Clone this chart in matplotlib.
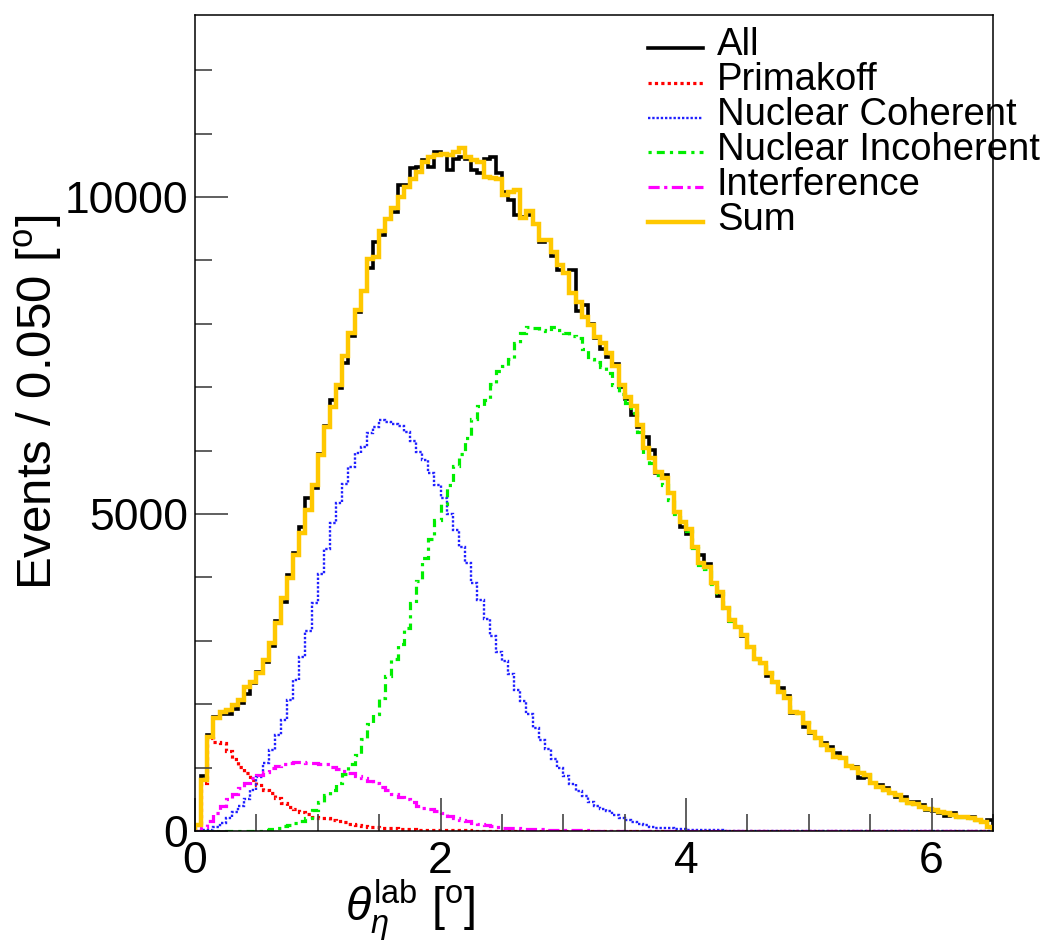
import numpy as np
import matplotlib
matplotlib.use("Agg")
import matplotlib.pyplot as plt
from matplotlib.lines import Line2D
from matplotlib.ticker import MultipleLocator

plt.rcParams.update({
    "font.family": ["Liberation Sans", "DejaVu Sans"],
    "mathtext.fontset": "custom",
    "mathtext.rm": "Liberation Sans",
    "mathtext.it": "Liberation Sans:italic",
})

# 130 bins of 0.05 deg between 0 and 6.5 deg
X_MIN, X_MAX, BIN_W = 0.0, 6.5, 0.05

all_events = [
    100, 870, 1510, 1800, 1850, 1850, 1930, 2020, 2160, 2330,
    2510, 2670, 2910, 3310, 3610, 4040, 4380, 4790, 5250, 5410,
    5950, 6390, 6800, 6990, 7380, 7800, 8180, 8520, 8880, 9290,
    9400, 9650, 9760, 10190, 10190, 10460, 10470, 10580, 10470, 10710,
    10680, 10420, 10600, 10630, 10600, 10430, 10380, 10600, 10630, 10380,
    10080, 9950, 9720, 9690, 9720, 9570, 9290, 9320, 9070, 8850,
    8800, 8850, 8200, 8300, 8000, 7780, 7600, 7480, 7370, 7000,
    6810, 6560, 6370, 6210, 6010, 5640, 5610, 5330, 5030, 4800,
    4680, 4480, 4350, 4210, 3910, 3710, 3520, 3310, 3220, 3080,
    2900, 2720, 2650, 2450, 2350, 2250, 2130, 1860, 1860, 1640,
    1550, 1460, 1390, 1330, 1230, 1150, 1030, 1010, 835, 850,
    755, 725, 675, 600, 540, 540, 460, 460, 410, 330,
    320, 280, 240, 280, 215, 220, 225, 175, 145, 175,
]

fit_sum = [
    95, 800, 1485, 1780, 1880, 1910, 1980, 2065, 2275, 2350,
    2490, 2700, 2970, 3280, 3670, 3990, 4350, 4700, 5060, 5460,
    5930, 6370, 6690, 7030, 7490, 7850, 8220, 8520, 9020, 9050,
    9460, 9650, 9820, 10000, 10160, 10280, 10390, 10550, 10630, 10660,
    10670, 10660, 10710, 10770, 10630, 10580, 10550, 10320, 10300, 10280,
    10030, 10080, 10110, 9670, 9780, 9570, 9320, 9320, 9130, 8930,
    8800, 8490, 8340, 8110, 7980, 7790, 7700, 7540, 7330, 7030,
    6850, 6700, 6400, 6040, 5880, 5660, 5570, 5330, 5030, 4870,
    4760, 4480, 4220, 4160, 3910, 3770, 3520, 3330, 3220, 3090,
    2900, 2720, 2650, 2490, 2350, 2190, 2090, 1880, 1860, 1710,
    1560, 1460, 1360, 1280, 1170, 1150, 1030, 990, 915, 880,
    755, 700, 645, 600, 570, 490, 440, 425, 380, 345,
    330, 300, 280, 250, 225, 220, 205, 175, 145, 65,
]

primakoff = [
    90, 750, 1460, 1400, 1390, 1260, 1140, 1010, 910, 800,
    725, 645, 595, 520, 445, 380, 345, 300, 265, 225,
    205, 200, 180, 160, 135, 115, 95, 80, 70, 60,
    50, 45, 40, 35, 30, 25, 22, 20, 17, 15,
    13, 12, 10, 9, 8, 7, 6, 5, 5, 4,
    4, 3, 3, 3, 2, 2, 2, 2, 1, 1,
    1, 1, 1, 1, 1, 0, 0, 0, 0, 0,
    0, 0, 0, 0, 0, 0, 0, 0, 0, 0,
    0, 0, 0, 0, 0, 0, 0, 0, 0, 0,
    0, 0, 0, 0, 0, 0, 0, 0, 0, 0,
    0, 0, 0, 0, 0, 0, 0, 0, 0, 0,
    0, 0, 0, 0, 0, 0, 0, 0, 0, 0,
    0, 0, 0, 0, 0, 0, 0, 0, 0, 0,
]

nuc_coherent = [
    0, 10, 20, 60, 120, 200, 300, 390, 500, 650,
    850, 1070, 1280, 1510, 1750, 2070, 2380, 2750, 3150, 3600,
    4050, 4450, 4850, 5180, 5480, 5740, 5960, 6050, 6280, 6370,
    6480, 6450, 6420, 6380, 6300, 6150, 5980, 5850, 5650, 5450,
    5250, 5000, 4750, 4480, 4230, 3910, 3650, 3350, 3080, 2830,
    2680, 2480, 2230, 2050, 1850, 1620, 1440, 1290, 1130, 990,
    860, 740, 630, 550, 460, 390, 340, 310, 250, 200,
    175, 140, 115, 90, 65, 55, 45, 40, 32, 28,
    22, 18, 15, 12, 10, 8, 7, 6, 5, 4,
    3, 3, 2, 2, 2, 1, 1, 1, 1, 1,
    0, 0, 0, 0, 0, 0, 0, 0, 0, 0,
    0, 0, 0, 0, 0, 0, 0, 0, 0, 0,
    0, 0, 0, 0, 0, 0, 0, 0, 0, 0,
]

nuc_incoherent = [
    0, 0, 0, 0, 0, 0, 0, 0, 0, 0,
    5, 10, 30, 50, 80, 100, 120, 150, 200, 330,
    460, 560, 650, 760, 900, 1060, 1200, 1450, 1680, 1850,
    2100, 2450, 2720, 2950, 3200, 3600, 3950, 4300, 4600, 4900,
    5150, 5450, 5750, 5950, 6200, 6500, 6700, 6800, 7050, 7250,
    7330, 7450, 7700, 7850, 7950, 7930, 7900, 7890, 7950, 7900,
    7850, 7810, 7780, 7600, 7450, 7400, 7320, 7220, 7030, 6900,
    6750, 6600, 6300, 5950, 5800, 5620, 5450, 5220, 5000, 4830,
    4730, 4460, 4200, 4140, 3900, 3760, 3510, 3320, 3215, 3085,
    2895, 2715, 2645, 2485, 2345, 2185, 2085, 1880, 1860, 1710,
    1560, 1460, 1360, 1280, 1170, 1150, 1030, 990, 915, 880,
    755, 700, 645, 600, 570, 490, 440, 425, 380, 345,
    330, 300, 280, 250, 225, 220, 205, 175, 145, 65,
]

interference = [
    0, 60, 160, 280, 400, 500, 590, 680, 750, 830,
    880, 930, 1000, 1030, 1060, 1080, 1090, 1090, 1080, 1070,
    1060, 1050, 1010, 980, 950, 910, 870, 830, 790, 750,
    690, 640, 590, 540, 500, 460, 400, 360, 340, 320,
    280, 240, 205, 175, 150, 130, 115, 100, 85, 65,
    50, 45, 40, 35, 30, 28, 25, 20, 18, 15,
    13, 10, 9, 8, 7, 6, 5, 5, 4, 4,
    3, 3, 2, 2, 2, 1, 1, 1, 1, 1,
    0, 0, 0, 0, 0, 0, 0, 0, 0, 0,
    0, 0, 0, 0, 0, 0, 0, 0, 0, 0,
    0, 0, 0, 0, 0, 0, 0, 0, 0, 0,
    0, 0, 0, 0, 0, 0, 0, 0, 0, 0,
    0, 0, 0, 0, 0, 0, 0, 0, 0, 0,
]

LABELS = ["All", "Primakoff", "Nuclear Coherent", "Nuclear Incoherent",
          "Interference", "Sum"]
COLORS = ["#000000", "#ff0000", "#2020ff", "#00ee00", "#ff00ff", "#ffc800"]
STYLES = ["-", (0, (1, 1)), (0, (1, 0.8)), (0, (1, 1.6, 2.5, 1.6)),
          (0, (3.5, 1.4, 1, 1.4)), "-"]
WIDTHS = [2.6, 2.3, 1.7, 2.3, 2.3, 3.2]

edges = np.arange(len(all_events) + 1) * BIN_W

fig = plt.figure(figsize=(10.55, 9.43), dpi=100)
ax = fig.add_axes([195 / 1055, 112 / 943, 798 / 1055, 816 / 943])

series = [all_events, primakoff, nuc_coherent, nuc_incoherent,
          interference, fit_sum]
for vals, lab, col, ls, lw in zip(series, LABELS, COLORS, STYLES, WIDTHS):
    ax.stairs(np.asarray(vals, float), edges, baseline=0, color=col,
              linestyle=ls, linewidth=lw, label=lab)

ax.set_xlim(X_MIN, X_MAX)
ax.set_ylim(0, 12870)
ax.xaxis.set_major_locator(MultipleLocator(2))
ax.xaxis.set_minor_locator(MultipleLocator(0.5))
ax.yaxis.set_major_locator(MultipleLocator(5000))
ax.yaxis.set_minor_locator(MultipleLocator(1000))
ax.tick_params(which="both", direction="in", top=False, right=False,
               color="#444444", width=1.2, labelsize=32)
ax.tick_params(which="major", length=24)
ax.tick_params(which="minor", length=12)
ax.tick_params(axis="x", pad=7)
ax.tick_params(axis="y", pad=5)
for sp in ax.spines.values():
    sp.set_linewidth(1.1)

ax.set_xlabel(r"$\theta_{\eta}^{\rm lab}$ [$^{\rm o}$]", fontsize=33.5,
              va="center")
ax.xaxis.set_label_coords(0.27, -0.097)
ax.set_ylabel(r"Events / 0.050 [$^{\rm o}$]", fontsize=35.5, va="center")
ax.yaxis.set_label_coords(-0.196, 0.525)

# legend drawn by hand so it can run past the frame like the original
for k, (lab, col, ls, lw) in enumerate(zip(LABELS, COLORS, STYLES, WIDTHS)):
    y_line = 1 - (48 + 34.8 * k) / 943
    y_text = 1 - (55 + 35.0 * k) / 943
    fig.add_artist(Line2D([648 / 1055, 703 / 1055], [y_line, y_line],
                          transform=fig.transFigure, color=col,
                          linestyle=ls, linewidth=lw))
    fig.text(717 / 1055, y_text, lab, fontsize=27.5, va="baseline",
             ha="left")

fig.savefig("out.png", dpi=100)
